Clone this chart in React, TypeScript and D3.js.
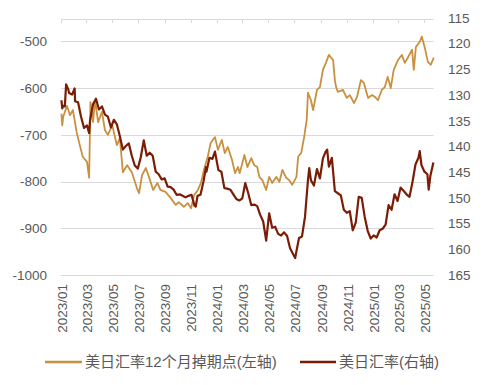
import * as d3 from "d3";

const W = 482;
const H = 385;
const LEFT = 61;
const GRID_RIGHT = 433.5;
const TOP = 18;
const BOTTOM = 275;

const GOLD = "#C8903F";
const DARK = "#7A1C06";
const GRID = "#D9D9D9";
const TXT = "#595959";
const FONT = "'Liberation Sans', Arial, 'Noto Sans CJK SC', sans-serif";

// x轴标签（每两个月）
const MONTH_TICKS = [
  "2023/01", "2023/03", "2023/05", "2023/07", "2023/09", "2023/11",
  "2024/01", "2024/03", "2024/05", "2024/07", "2024/09", "2024/11",
  "2025/01", "2025/03", "2025/05",
];
const LEFT_TICKS = [-1000, -900, -800, -700, -600, -500];
const RIGHT_TICKS = [115, 120, 125, 130, 135, 140, 145, 150, 155, 160, 165];

// 美日汇率12个月掉期点（左轴）
const FWD_POINTS: [string, number][] = [
  ["2023-01-02", -655], ["2023-01-04", -680], ["2023-01-06", -662], ["2023-01-15", -638],
  ["2023-01-22", -658], ["2023-01-29", -647], ["2023-02-07", -696], ["2023-02-14", -722],
  ["2023-02-21", -747], ["2023-03-03", -758], ["2023-03-08", -792], ["2023-03-11", -630],
  ["2023-03-17", -673], ["2023-03-22", -626], ["2023-03-29", -673], ["2023-04-07", -651],
  ["2023-04-14", -690], ["2023-04-21", -700], ["2023-05-01", -679], ["2023-05-12", -722],
  ["2023-05-19", -707], ["2023-05-26", -780], ["2023-06-05", -765], ["2023-06-16", -780],
  ["2023-06-28", -814], ["2023-07-03", -825], ["2023-07-10", -786], ["2023-07-19", -771],
  ["2023-07-29", -798], ["2023-08-05", -818], ["2023-08-15", -803], ["2023-08-22", -818],
  ["2023-09-03", -822], ["2023-09-15", -835], ["2023-09-27", -850], ["2023-10-04", -844],
  ["2023-10-16", -854], ["2023-10-25", -846], ["2023-11-02", -857], ["2023-11-09", -829],
  ["2023-11-18", -818], ["2023-11-25", -803], ["2023-12-02", -775], ["2023-12-11", -747],
  ["2023-12-18", -717], ["2023-12-28", -705], ["2024-01-04", -732], ["2024-01-13", -711],
  ["2024-01-20", -739], ["2024-01-27", -726], ["2024-02-06", -754], ["2024-02-13", -782],
  ["2024-02-20", -769], ["2024-02-24", -782], ["2024-03-06", -743], ["2024-03-13", -769],
  ["2024-03-22", -750], ["2024-03-29", -765], ["2024-04-05", -769], ["2024-04-10", -790],
  ["2024-04-17", -797], ["2024-04-26", -818], ["2024-05-03", -790], ["2024-05-10", -803],
  ["2024-05-20", -790], ["2024-05-27", -801], ["2024-06-03", -775], ["2024-06-12", -792],
  ["2024-06-19", -797], ["2024-06-26", -807], ["2024-07-06", -790], ["2024-07-10", -747],
  ["2024-07-17", -739], ["2024-07-24", -705], ["2024-07-30", -668], ["2024-08-02", -610],
  ["2024-08-09", -626], ["2024-08-14", -647], ["2024-08-23", -604], ["2024-08-30", -598],
  ["2024-09-06", -561], ["2024-09-13", -546], ["2024-09-20", -529], ["2024-09-30", -540],
  ["2024-10-04", -583], ["2024-10-07", -598], ["2024-10-11", -608], ["2024-10-23", -604],
  ["2024-11-01", -621], ["2024-11-08", -615], ["2024-11-18", -632], ["2024-11-25", -619],
  ["2024-12-04", -583], ["2024-12-11", -589], ["2024-12-21", -621], ["2024-12-30", -615],
  ["2025-01-06", -619], ["2025-01-13", -626], ["2025-01-22", -604], ["2025-01-29", -598],
  ["2025-02-05", -576], ["2025-02-12", -600], ["2025-02-19", -561], ["2025-03-01", -540],
  ["2025-03-10", -529], ["2025-03-17", -546], ["2025-03-24", -535], ["2025-04-03", -518],
  ["2025-04-07", -561], ["2025-04-12", -512], ["2025-04-21", -501], ["2025-04-26", -490],
  ["2025-05-03", -514], ["2025-05-10", -544], ["2025-05-17", -550], ["2025-05-24", -535],
];

// 美日汇率（右轴）
const USDJPY: [string, number][] = [
  ["2023-01-02", 131.0], ["2023-01-04", 132.6], ["2023-01-06", 132.1], ["2023-01-10", 132.2],
  ["2023-01-13", 127.9], ["2023-01-18", 128.9], ["2023-01-20", 129.6], ["2023-01-27", 129.9],
  ["2023-02-02", 128.7], ["2023-02-03", 131.2], ["2023-02-10", 131.4], ["2023-02-17", 134.2],
  ["2023-02-24", 136.4], ["2023-03-03", 135.9], ["2023-03-08", 137.4], ["2023-03-10", 135.0],
  ["2023-03-17", 131.8], ["2023-03-24", 130.7], ["2023-03-31", 132.8], ["2023-04-07", 132.2],
  ["2023-04-14", 133.8], ["2023-04-21", 134.2], ["2023-04-28", 136.3], ["2023-05-05", 134.8],
  ["2023-05-12", 135.7], ["2023-05-19", 138.0], ["2023-05-26", 140.6], ["2023-06-02", 139.9],
  ["2023-06-09", 139.4], ["2023-06-16", 141.8], ["2023-06-23", 143.7], ["2023-06-30", 144.3],
  ["2023-07-07", 142.1], ["2023-07-14", 138.8], ["2023-07-21", 141.8], ["2023-07-28", 141.2],
  ["2023-08-04", 141.8], ["2023-08-11", 144.9], ["2023-08-18", 145.4], ["2023-08-25", 146.4],
  ["2023-09-01", 146.2], ["2023-09-08", 147.8], ["2023-09-15", 147.9], ["2023-09-22", 148.4],
  ["2023-09-29", 149.4], ["2023-10-06", 149.3], ["2023-10-13", 149.6], ["2023-10-20", 149.9],
  ["2023-10-27", 149.6], ["2023-11-03", 149.4], ["2023-11-10", 151.5], ["2023-11-13", 151.7],
  ["2023-11-17", 149.6], ["2023-11-24", 149.4], ["2023-12-01", 146.8], ["2023-12-07", 144.0],
  ["2023-12-08", 144.9], ["2023-12-15", 142.2], ["2023-12-22", 142.4], ["2023-12-28", 141.0],
  ["2024-01-05", 144.6], ["2024-01-12", 144.9], ["2024-01-19", 148.1], ["2024-01-26", 148.2],
  ["2024-02-02", 148.4], ["2024-02-09", 149.3], ["2024-02-16", 150.2], ["2024-02-23", 150.5],
  ["2024-03-01", 150.1], ["2024-03-08", 147.1], ["2024-03-15", 149.1], ["2024-03-22", 151.4],
  ["2024-03-29", 151.3], ["2024-04-05", 151.6], ["2024-04-12", 153.3], ["2024-04-19", 154.6],
  ["2024-04-26", 158.3], ["2024-05-03", 153.0], ["2024-05-10", 155.8], ["2024-05-17", 155.6],
  ["2024-05-24", 157.0], ["2024-05-31", 157.3], ["2024-06-07", 156.7], ["2024-06-14", 157.4],
  ["2024-06-21", 159.8], ["2024-06-28", 160.9], ["2024-07-03", 161.7], ["2024-07-05", 160.8],
  ["2024-07-12", 157.8], ["2024-07-19", 157.5], ["2024-07-26", 153.7], ["2024-08-02", 146.5],
  ["2024-08-05", 144.2], ["2024-08-09", 146.6], ["2024-08-16", 147.6], ["2024-08-23", 144.4],
  ["2024-08-30", 146.2], ["2024-09-06", 142.3], ["2024-09-13", 140.9], ["2024-09-16", 140.6],
  ["2024-09-20", 143.9], ["2024-09-27", 142.2], ["2024-10-04", 148.7], ["2024-10-11", 149.1],
  ["2024-10-18", 149.5], ["2024-10-25", 152.3], ["2024-11-01", 152.9], ["2024-11-08", 152.6],
  ["2024-11-15", 156.3], ["2024-11-22", 154.8], ["2024-11-29", 149.8], ["2024-12-06", 150.0],
  ["2024-12-13", 153.7], ["2024-12-20", 156.4], ["2024-12-27", 157.9], ["2025-01-03", 157.3],
  ["2025-01-10", 157.7], ["2025-01-17", 156.3], ["2025-01-24", 156.0], ["2025-01-31", 155.2],
  ["2025-02-07", 151.4], ["2025-02-14", 152.3], ["2025-02-21", 149.3], ["2025-02-28", 150.6],
  ["2025-03-07", 148.0], ["2025-03-14", 148.6], ["2025-03-21", 149.3], ["2025-03-28", 149.8],
  ["2025-04-04", 146.9], ["2025-04-11", 143.5], ["2025-04-18", 142.2], ["2025-04-21", 140.9],
  ["2025-04-25", 143.6], ["2025-05-02", 144.9], ["2025-05-09", 145.4], ["2025-05-12", 148.4],
  ["2025-05-16", 145.7], ["2025-05-23", 143.1],
];

const LEGEND = ["美日汇率12个月掉期点(左轴)", "美日汇率(右轴)"];

const parse = d3.timeParse("%Y-%m-%d");
const parseMonth = d3.timeParse("%Y/%m");

export default function App() {
  const x = d3.scaleTime()
    .domain([new Date(2023, 0, 1), new Date(2025, 4, 1)])
    .range([LEFT, 424]);
  const yL = d3.scaleLinear([-1000, -450], [BOTTOM, TOP]);
  const yR = d3.scaleLinear([115, 165], [TOP, BOTTOM]);

  const lineL = d3.line<[string, number]>()
    .x(d => x(parse(d[0])!))
    .y(d => yL(d[1]));
  const lineR = d3.line<[string, number]>()
    .x(d => x(parse(d[0])!))
    .y(d => yR(d[1]));

  const axisY = Math.round(yR(115)) + 1;

  return (
    <svg
      width={W}
      height={H}
      style={{ position: "absolute", left: 0, top: 0, background: "#fff" }}
      fontFamily={FONT}
    >
      {/* 网格线 */}
      {LEFT_TICKS.map(t => (
        <line key={t} x1={LEFT} x2={GRID_RIGHT} y1={Math.round(yL(t)) + 0.5} y2={Math.round(yL(t)) + 0.5}
          stroke={GRID} strokeWidth={1} />
      ))}
      {/* 顶部日期轴线 */}
      <line x1={LEFT} x2={GRID_RIGHT} y1={axisY + 0.5} y2={axisY + 0.5} stroke={GRID} strokeWidth={1} />
      {MONTH_TICKS.map(m => {
        const px = Math.round(x(parseMonth(m)!)) + 0.5;
        return <line key={m} x1={px} x2={px} y1={axisY} y2={axisY + 4} stroke={GRID} strokeWidth={1} />;
      })}

      {/* 左轴 */}
      {LEFT_TICKS.map(t => (
        <text key={t} x={47} y={yL(t)} dy="0.35em" textAnchor="end" fontSize={13.5} fill={TXT}>{t}</text>
      ))}
      {/* 右轴 */}
      {RIGHT_TICKS.map(t => (
        <text key={t} x={448} y={yR(t)} dy="0.35em" textAnchor="start" fontSize={13.5} fill={TXT}>{t}</text>
      ))}
      {/* x轴标签 */}
      {MONTH_TICKS.map(m => (
        <text key={m} transform={`translate(${x(parseMonth(m)!) + 1},284) rotate(-90)`}
          dy="0.35em" textAnchor="end" fontSize={13.5} fill={TXT}>{m}</text>
      ))}

      <path d={lineL(FWD_POINTS)!} fill="none" stroke={GOLD} strokeWidth={1.8} strokeLinejoin="round" />
      <path d={lineR(USDJPY)!} fill="none" stroke={DARK} strokeWidth={2.2} strokeLinejoin="round" />

      {/* 图例 */}
      <line x1={45} x2={82} y1={362} y2={362} stroke={GOLD} strokeWidth={2.5} />
      <text x={85} y={362} dy="0.35em" fontSize={15} fill={TXT}>{LEGEND[0]}</text>
      <line x1={300} x2={336} y1={362} y2={362} stroke={DARK} strokeWidth={2.5} />
      <text x={339} y={362} dy="0.35em" fontSize={15} fill={TXT}>{LEGEND[1]}</text>
    </svg>
  );
}
